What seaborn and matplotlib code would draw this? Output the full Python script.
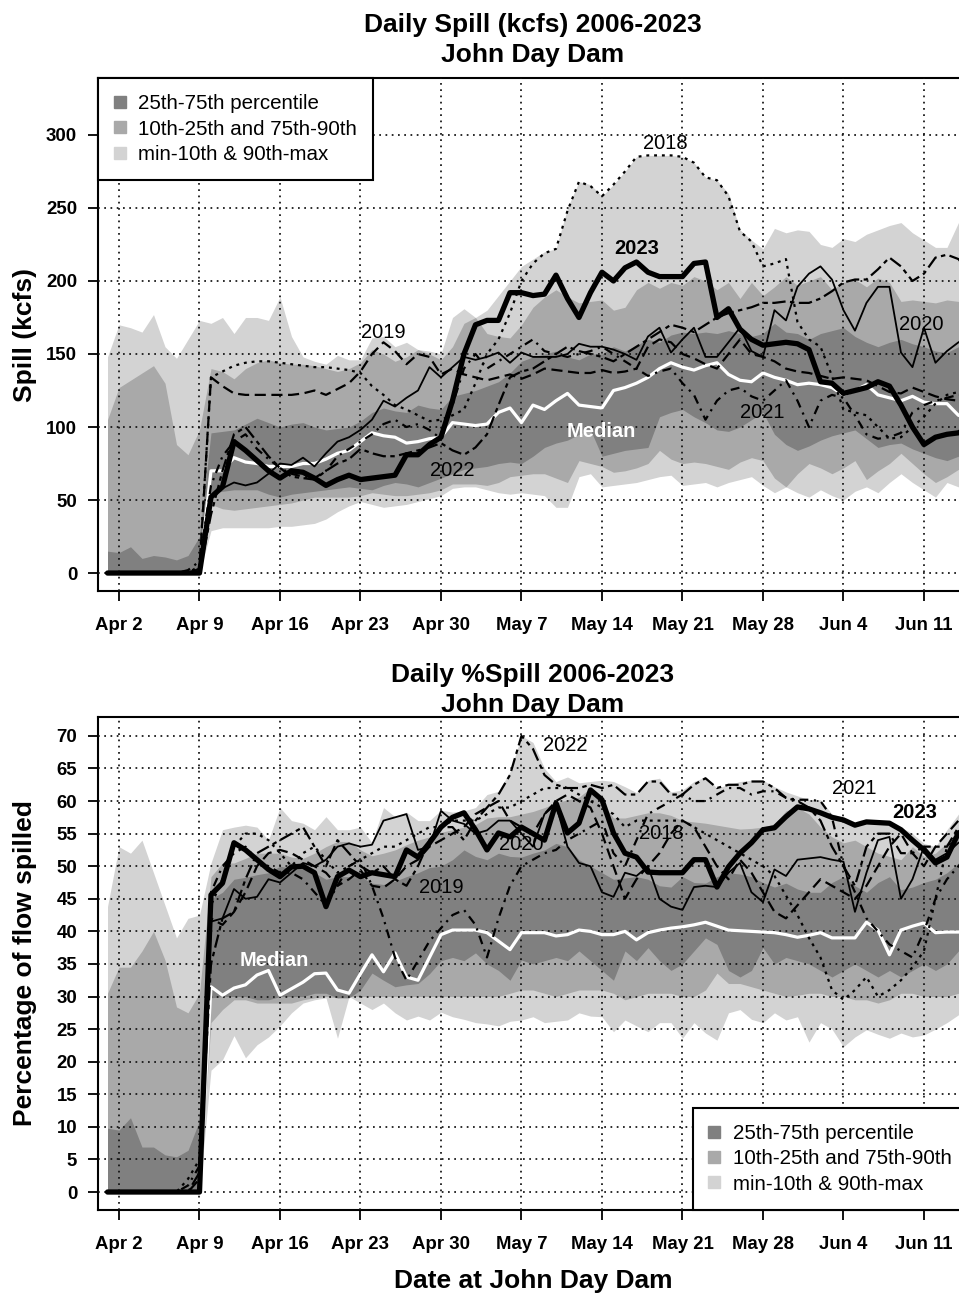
import numpy as np
import pandas as pd
import matplotlib
matplotlib.use("Agg")
import matplotlib.pyplot as plt
import seaborn as sns
from matplotlib.lines import Line2D

# ---------------- data ----------------
DATES = pd.date_range("2023-04-01", "2023-06-15", freq="D")
X = (DATES - DATES[0]).days.to_numpy()

XTICK_LABELS = ["Apr 2", "Apr 9", "Apr 16", "Apr 23", "Apr 30", "May 7",
                "May 14", "May 21", "May 28", "Jun 4", "Jun 11"]
TOP_YTICKS = [0, 50, 100, 150, 200, 250, 300]
BOT_YTICKS = [0, 5, 10, 15, 20, 25, 30, 35, 40, 45, 50, 55, 60, 65, 70]
YEARS = ["2018", "2019", "2020", "2021", "2022"]

# ---- Daily spill (kcfs) ----
TOP_MIN = [0, 0, 0, 0, 0, 0, 0, 0, 0, 29,
           31, 31, 31, 31, 31, 32, 32, 33, 34, 37,
           42, 46, 49, 47, 45, 46, 47, 49, 51, 53,
           58, 59, 59, 57, 55, 54, 55, 54, 53, 45,
           45, 66, 68, 59, 60, 61, 62, 64, 66, 67,
           60, 61, 62, 59, 62, 64, 66, 60, 55, 59,
           55, 52, 57, 53, 50, 56, 59, 55, 62, 68,
           62, 57, 52, 62, 59, 60]
TOP_P10 = [0, 0, 0, 0, 0, 0, 0, 0, 0, 47,
           44, 43, 44, 45, 46, 47, 48, 50, 52, 52,
           52, 52, 53, 55, 54, 53, 53, 54, 55, 57,
           61, 61, 61, 60, 62, 66, 67, 68, 68, 65,
           62, 77, 75, 73, 69, 70, 72, 75, 84, 78,
           75, 76, 75, 73, 71, 76, 79, 77, 65, 59,
           68, 75, 72, 68, 72, 77, 64, 70, 75, 82,
           75, 68, 62, 66, 71, 70]
TOP_P25 = [0, 0, 0, 0, 0, 0, 0, 0, 0, 55,
           56, 57, 57, 57, 54, 52, 54, 55, 56, 57,
           58, 59, 58, 57, 60, 62, 61, 59, 62, 65,
           68, 71, 72, 73, 75, 76, 75, 80, 86, 89,
           91, 95, 98, 80, 82, 84, 85, 86, 107, 110,
           112, 107, 103, 98, 97, 100, 105, 110, 95, 88,
           84, 87, 91, 94, 96, 98, 92, 86, 88, 89,
           85, 82, 79, 77, 80, 84]
TOP_MEDIAN = [0, 0, 0, 0, 0, 0, 0, 0, 0, 70,
              70, 79, 76, 75, 73, 73, 73, 75, 75, 78,
              82, 84, 90, 96, 94, 93, 89, 90, 92, 93,
              103, 102, 101, 102, 110, 113, 103, 115, 112, 118,
              123, 115, 114, 113, 125, 127, 130, 134, 140, 144,
              141, 139, 142, 144, 136, 132, 131, 137, 134, 132,
              129, 130, 129, 127, 122, 125, 129, 122, 120, 118,
              121, 117, 116, 116, 108, 106]
TOP_P75 = [15, 14, 18, 10, 12, 11, 9, 12, 25, 96,
           97, 98, 102, 106, 103, 100, 102, 103, 100, 98,
           99, 100, 104, 110, 113, 111, 110, 115, 113, 112,
           121, 123, 125, 128, 131, 137, 145, 148, 150, 152,
           148, 146, 150, 150, 155, 152, 156, 160, 158, 163,
           165, 164, 165, 164, 166, 164, 162, 164, 171, 165,
           164, 160, 164, 166, 168, 162, 158, 155, 158, 160,
           157, 155, 152, 151, 155, 156]
TOP_P90 = [105, 127, 132, 137, 142, 130, 88, 81, 98, 140,
           138, 133, 140, 144, 146, 144, 143, 143, 142, 140,
           138, 140, 144, 153, 150, 145, 148, 153, 150, 146,
           155, 171, 175, 164, 162, 161, 170, 182, 189, 194,
           189, 185, 186, 187, 180, 182, 194, 199, 195, 199,
           197, 203, 200, 194, 199, 188, 199, 190, 196, 203,
           197, 200, 203, 194, 199, 201, 196, 202, 199, 186,
           187, 186, 185, 187, 186, 185]
TOP_MAX = [148, 170, 168, 165, 177, 155, 147, 160, 173, 171,
           175, 164, 175, 175, 173, 189, 162, 148, 145, 143,
           149, 146, 146, 161, 162, 155, 158, 153, 152, 150,
           175, 181, 175, 180, 190, 200, 210, 215, 220, 222,
           250, 268, 266, 258, 266, 275, 285, 286, 286, 286,
           285, 281, 271, 269, 260, 235, 228, 222, 236, 233,
           235, 234, 225, 223, 229, 227, 232, 235, 238, 240,
           233, 228, 223, 223, 240, 242]
TOP_2023 = [0, 0, 0, 0, 0, 0, 0, 0, 0, 52,
            59, 90, 84, 77, 70, 65, 70, 69, 65, 60,
            64, 67, 64, 65, 66, 67, 81, 81, 88, 93,
            118, 150, 170, 173, 173, 192, 192, 190, 191, 204,
            188, 175, 192, 206, 200, 209, 213, 206, 203, 203,
            203, 212, 213, 175, 181, 167, 160, 156, 157, 158,
            157, 153, 131, 130, 123, 125, 127, 131, 128, 115,
            100, 88, 93, 95, 96, 100]
TOP_2018 = [0, 0, 0, 0, 0, 0, 0, 0, 5, 134,
            138, 142, 144, 145, 145, 144, 143, 142, 141, 141,
            140, 139, 137, 128, 122, 115, 112, 108, 104, 105,
            108, 112, 130, 150, 160, 178, 200, 212, 219, 222,
            248, 268, 265, 258, 266, 275, 285, 286, 286, 286,
            285, 281, 271, 269, 258, 234, 227, 210, 212, 215,
            172, 160, 155, 135, 112, 110, 108, 100, 92, 93,
            100, 107, 116, 122, 124, 125]
TOP_2019 = [0, 0, 0, 0, 0, 0, 0, 0, 3, 134,
            128, 123, 122, 122, 122, 122, 122, 123, 125, 122,
            126, 130, 138, 150, 158, 152, 143, 150, 148, 136,
            140, 136, 134, 132, 134, 136, 133, 136, 140, 139,
            138, 137, 137, 139, 137, 138, 140, 155, 160, 158,
            150, 147, 143, 140, 150, 160, 150, 148, 145, 140,
            138, 137, 135, 133, 134, 133, 132, 128, 124, 123,
            127, 124, 121, 119, 118, 118]
TOP_2020 = [0, 0, 0, 0, 0, 0, 0, 0, 0, 52,
            58, 62, 60, 62, 68, 75, 74, 79, 73, 82,
            90, 93, 98, 105, 118, 114, 120, 125, 141, 134,
            141, 148, 146, 148, 151, 144, 151, 148, 148, 148,
            150, 157, 155, 155, 153, 150, 146, 162, 168, 151,
            160, 168, 148, 148, 158, 168, 152, 148, 180, 173,
            196, 205, 210, 201, 180, 166, 185, 196, 196, 151,
            141, 168, 144, 152, 158, 162]
TOP_2021 = [0, 0, 0, 0, 0, 0, 0, 2, 8, 60,
            80, 90, 95, 85, 78, 72, 68, 66, 65, 70,
            80, 85, 90, 95, 102, 105, 100, 102, 98, 92,
            115, 140, 150, 140, 145, 150, 155, 160, 152, 150,
            148, 150, 152, 155, 150, 145, 140, 135, 138, 140,
            130, 122, 105, 118, 125, 127, 121, 118, 125, 132,
            118, 100, 118, 122, 120, 108, 95, 92, 93, 96,
            110, 115, 118, 120, 122, 122]
TOP_2022 = [0, 0, 0, 0, 0, 0, 0, 0, 0, 40,
            70, 95, 100, 90, 80, 72, 66, 65, 64, 70,
            75, 78, 85, 82, 80, 80, 82, 84, 86, 89,
            84, 81, 86, 95, 115, 134, 138, 140, 145, 150,
            155, 152, 150, 148, 145, 150, 155, 160, 165, 170,
            168, 165, 170, 175, 178, 180, 182, 185, 185, 186,
            185, 185, 188, 193, 199, 201, 201, 208, 216, 210,
            200, 205, 216, 218, 215, 205]

# ---- Daily % spill ----
BOT_MIN = [0, 0, 0, 0, 0, 0, 0, 0, 0, 18.7,
           20.3, 24.0, 20.6, 22.6, 23.8, 25.5, 27.5, 29.0, 29.5, 29.8,
           23.6, 30.0, 29.0, 28.0, 29.0, 27.5, 26.4, 27.0, 26.4, 27.6,
           26.9, 26.5, 26.0, 25.8, 25.5, 26.2, 26.4, 26.9, 26.0, 26.2,
           26.4, 27.5, 27.0, 26.9, 24.6, 26.4, 25.5, 24.6, 26.0, 26.0,
           23.6, 26.0, 24.4, 23.3, 27.5, 28.0, 26.5, 26.0, 27.5, 26.4,
           26.9, 23.0, 26.0, 25.0, 22.3, 23.8, 24.9, 24.2, 23.6, 24.4,
           23.8, 24.1, 25.0, 26.0, 27.2, 27.5]
BOT_P10 = [0, 0, 0, 0, 0, 0, 0, 0, 0, 26.0,
           28.0, 29.5, 29.5, 29.0, 29.0, 29.0, 29.0, 29.5, 29.8, 30.0,
           29.8, 30.0, 30.0, 30.0, 30.0, 30.0, 30.0, 30.0, 30.0, 30.0,
           30.0, 30.0, 30.0, 30.0, 30.0, 30.5, 31.0, 31.0, 30.5, 30.0,
           30.5, 31.0, 31.0, 31.0, 30.5, 29.5, 30.0, 30.5, 30.5, 30.5,
           30.0, 30.0, 31.0, 33.6, 32.0, 32.0, 31.5, 31.0, 30.5, 30.0,
           30.2, 30.5, 30.5, 30.0, 30.0, 29.5, 29.5, 29.0, 29.5, 30.5,
           30.5, 30.0, 30.0, 30.0, 30.5, 30.5]
BOT_P25 = [0, 0, 0, 0, 0, 0, 0, 0, 0, 29.8,
           30.0, 30.0, 30.0, 29.5, 29.5, 30.0, 30.0, 30.0, 30.5, 30.5,
           29.8, 29.8, 31.0, 33.6, 32.5, 31.5, 31.8, 32.0, 33.5, 35.5,
           36.0, 35.5, 36.7, 35.0, 34.0, 32.5, 35.6, 35.0, 35.5, 36.0,
           35.5, 37.0, 35.5, 34.0, 32.5, 37.0, 35.5, 37.5, 35.5, 34.0,
           35.0, 37.0, 39.0, 38.0, 34.0, 33.0, 34.0, 37.5, 35.0, 36.0,
           35.5, 35.0, 34.0, 33.0, 34.0, 35.0, 34.0, 33.0, 34.0, 33.0,
           34.0, 35.0, 34.0, 35.0, 37.0, 37.0]
BOT_MEDIAN = [0, 0, 0, 0, 0, 0, 0, 0, 0, 31.5,
              30.2, 31.3, 31.8, 33.3, 34.0, 30.2, 31.2, 32.2, 33.5, 33.6,
              31.0, 30.5, 33.5, 36.4, 33.8, 36.7, 33.0, 32.5, 36.0, 39.5,
              40.2, 40.2, 40.2, 39.8, 38.5, 37.2, 39.8, 39.8, 39.8, 39.3,
              39.5, 40.2, 40.0, 39.5, 39.5, 40.0, 38.7, 39.8, 40.2, 40.5,
              40.7, 41.0, 41.4, 40.8, 40.2, 40.1, 40.0, 39.9, 39.8, 39.5,
              39.1, 39.4, 39.8, 39.0, 39.0, 39.0, 41.4, 40.2, 36.4, 40.2,
              40.8, 41.3, 39.8, 39.9, 39.9, 40.0]
BOT_P75 = [9.8, 9.5, 11.4, 6.9, 6.9, 5.7, 5.4, 6.4, 11.0, 45.0,
           46.0, 48.0, 48.3, 48.7, 49.0, 50.0, 49.7, 50.3, 49.0, 48.0,
           48.4, 48.4, 48.4, 47.4, 47.2, 47.7, 48.4, 49.0, 49.8, 50.0,
           51.0, 52.5, 51.5, 51.0, 52.0, 51.5, 51.4, 52.0, 52.5, 53.5,
           53.0, 51.0, 50.0, 49.0, 48.0, 48.2, 48.4, 48.0, 47.0, 46.8,
           48.4, 47.5, 47.4, 48.4, 49.0, 48.8, 48.4, 47.5, 46.8, 47.4,
           46.5, 46.0, 46.0, 47.5, 48.4, 47.0, 46.0, 47.5, 48.4, 46.4,
           46.8, 47.5, 48.0, 49.0, 50.5, 51.0]
BOT_P90 = [30.5, 34.5, 34.5, 37.0, 40.0, 35.6, 28.4, 27.5, 30.5, 48.4,
           50.5, 50.5, 51.2, 52.0, 52.0, 52.0, 51.4, 51.2, 52.0, 53.0,
           53.8, 53.8, 52.5, 51.6, 52.0, 52.5, 53.3, 54.0, 54.5, 55.2,
           55.6, 56.0, 56.4, 57.4, 57.6, 57.6, 58.0, 58.4, 59.0, 59.7,
           60.2, 60.6, 62.0, 59.7, 57.4, 57.4, 57.8, 58.2, 58.2, 57.8,
           57.0, 56.8, 56.6, 56.3, 56.0, 55.7, 55.8, 56.0, 56.5, 58.5,
           59.0, 58.0, 56.0, 54.5, 53.6, 54.0, 53.0, 52.0, 51.5, 51.0,
           53.0, 51.5, 52.0, 53.6, 55.6, 56.0]
BOT_MAX = [43.8, 53.0, 52.0, 54.0, 49.0, 44.0, 39.0, 42.0, 42.5, 50.5,
           55.6, 56.0, 56.3, 56.0, 54.0, 59.0, 57.0, 56.6, 55.6, 57.6,
           55.6, 55.6, 56.0, 53.6, 59.0, 57.6, 58.3, 57.0, 57.0, 58.6,
           58.3, 58.5, 59.0, 61.0, 61.5, 64.5, 70.0, 69.0, 65.0, 63.0,
           63.7, 62.8, 63.0, 63.2, 63.0, 62.2, 61.3, 63.2, 63.5, 61.4,
           61.7, 63.0, 63.7, 62.0, 62.5, 63.0, 63.2, 63.2, 62.2, 61.4,
           60.8, 60.2, 60.2, 58.0, 57.5, 56.5, 57.0, 57.0, 56.8, 56.0,
           55.0, 53.5, 53.0, 55.6, 58.0, 58.5]
BOT_2023 = [0, 0, 0, 0, 0, 0, 0, 0, 0, 45.6,
            47.4, 53.6, 52.5, 51.0, 49.5, 48.4, 49.9, 50.0, 49.0, 43.8,
            48.4, 49.4, 48.4, 49.0, 48.7, 48.4, 52.5, 51.4, 53.6, 56.0,
            57.5, 58.2, 55.6, 52.5, 55.1, 54.5, 56.0, 55.0, 54.0, 59.7,
            55.1, 56.6, 61.7, 60.2, 55.1, 52.0, 51.4, 49.1, 49.0, 49.0,
            49.0, 51.0, 51.0, 46.8, 49.9, 52.0, 53.6, 55.6, 55.9, 57.6,
            59.1, 58.8, 58.2, 57.5, 57.1, 56.3, 56.8, 56.7, 56.6, 55.6,
            54.0, 52.5, 50.5, 51.4, 55.1, 56.0]
BOT_2018 = [0, 0, 0, 0, 0, 0, 0, 2, 5, 44,
            48, 53, 55, 55, 54, 52, 50, 52, 53, 51,
            49, 50, 51, 52, 53, 53, 54, 55, 56, 56,
            57, 57, 57, 58, 59, 59, 60, 61, 62, 62,
            62, 61, 60, 59, 58, 56, 57, 57, 57, 57,
            57, 56, 55, 54, 53, 52, 51, 50, 48.5, 45.5,
            42.5, 39, 36, 31, 29.5, 31, 33, 30, 31, 32.5,
            34.5, 37, 45, 53, 55, 56]
BOT_2019 = [0, 0, 0, 0, 0, 0, 0, 0, 2, 42,
            41, 43, 46, 50, 52, 52.5, 52, 51, 50, 49,
            47, 48, 49.4, 47, 46.7, 48, 50, 51, 53, 54,
            55, 56, 58, 59, 60, 57, 56, 55, 58, 60,
            61, 60, 59, 55, 50, 45, 48, 50, 52, 55,
            57, 56, 53, 50, 48, 51, 49, 46, 43, 42,
            44, 46, 48, 47, 46, 45, 47, 50, 53, 55,
            52, 50, 53, 55, 57, 58]
BOT_2020 = [0, 0, 0, 0, 0, 0, 0, 0, 0, 41.5,
            42, 46.5, 45, 45.3, 48, 47.5, 49, 50.5, 50, 51,
            53, 53.5, 53, 53.3, 57, 57.5, 58, 52.5, 53, 58.5,
            57, 56.5, 55, 55.5, 57, 57, 55, 53, 58, 59.5,
            53, 50.5, 50, 46, 45.3, 49, 48.5, 50, 45, 43.8,
            43.3, 46.8, 47, 46.8, 49, 50.5, 46, 44.5, 49.5, 48.5,
            51, 51.2, 51.4, 51, 50.7, 43, 49, 54, 54.5, 45,
            48, 53, 51, 52, 53.6, 54]
BOT_2021 = [0, 0, 0, 0, 0, 0, 0, 1, 4, 46,
            50, 52, 53, 51, 50, 49, 49, 48, 46, 44,
            47, 50, 51, 47, 42, 36, 32.5, 35.5, 38.5, 40.5,
            42.5, 43.3, 41, 36, 42, 47, 50, 51, 52, 52.5,
            54, 55, 56, 57, 52, 50, 54, 58, 59, 60,
            61, 60, 60, 61, 62, 62, 61, 61.5, 61.5, 60.5,
            60.2, 60.2, 60, 57.5, 50, 46, 42, 40, 38, 37,
            36, 40, 45, 48, 50, 52]
BOT_2022 = [0, 0, 0, 0, 0, 0, 0, 0, 3, 35,
            42, 43, 48, 52, 53, 54, 55, 56, 53, 50,
            54, 52, 50, 49, 50, 48, 47, 50, 54, 56,
            56, 54, 57, 59, 61, 64, 70, 68, 64, 62.5,
            62, 62, 62.5, 62, 62.5, 61, 61, 63, 63, 61,
            61, 62.5, 63.5, 62, 62.5, 62.5, 63, 63, 62, 60.5,
            60, 59, 57, 53, 50, 47, 53, 55, 55, 52,
            52, 53, 53, 53, 56, 57]

LEGEND_LABELS = ["25th-75th percentile", "10th-25th and 75th-90th",
                 "min-10th & 90th-max"]

# ---------------- styles ----------------
LIGHT, MED, DARK = "#D3D3D3", "#A9A9A9", "#808080"
YEAR_STYLE = {
    "2018": dict(linestyle=(0, (1.3, 2.2)), linewidth=1.6),
    "2019": dict(linestyle=(0, (5, 2.5)), linewidth=1.6),
    "2020": dict(linestyle="-", linewidth=1.3),
    "2021": dict(linestyle=(0, (1, 2.5, 4, 2.5)), linewidth=1.6),
    "2022": dict(linestyle=(0, (2, 2, 6, 2)), linewidth=1.6),
}

sns.set_style("white")
plt.rcParams["font.family"] = ["Liberation Sans", "DejaVu Sans"]
plt.rcParams["text.color"] = "black"
plt.rcParams["axes.labelcolor"] = "black"
plt.rcParams["xtick.color"] = "black"
plt.rcParams["ytick.color"] = "black"

W, H = 959, 1295
fig = plt.figure(figsize=(W / 100, H / 100), dpi=100)


def px_axes(l, t, r, b):
    return [l / W, 1 - b / H, (r - l) / W, (b - t) / H]


ax1 = fig.add_axes(px_axes(98, 78, 968, 591))
ax2 = fig.add_axes(px_axes(98, 717, 968, 1210))

tick_pos = [(pd.to_datetime(lbl + " 2023", format="%b %d %Y") - DATES[0]).days
            for lbl in XTICK_LABELS]


def panel(ax, bands, median, years, y2023, ylim, yticks, title, title_pad,
          ylabel, labels, legend_loc):
    vmin, p10, p25, p75, p90, vmax = bands
    ax.fill_between(X, vmin, vmax, color=LIGHT, linewidth=0, zorder=1)
    ax.fill_between(X, p10, p90, color=MED, linewidth=0, zorder=1.1)
    ax.fill_between(X, p25, p75, color=DARK, linewidth=0, zorder=1.2)

    ax.set_axisbelow(False)
    ax.grid(True, color="#111111", linestyle=(0, (1, 2.6)), linewidth=1.25)

    sns.lineplot(x=X, y=median, ax=ax, color="white", linewidth=2.3,
                 zorder=3.5, legend=False)
    for yr, vals in zip(YEARS, years):
        sns.lineplot(x=X, y=vals, ax=ax, color="black", zorder=4,
                     legend=False, **YEAR_STYLE[yr])
    sns.lineplot(x=X, y=y2023, ax=ax, color="black", linewidth=3.8,
                 zorder=5, legend=False)

    for txt, (xx, yy, bold, col) in labels.items():
        ax.text(xx, yy, txt, ha="center", va="center",
                fontsize=14.5, fontweight="bold" if bold else "normal",
                color=col, zorder=3)

    ax.set_xlim(-0.826, 74.83)
    ax.set_ylim(*ylim)
    ax.set_xticks(tick_pos)
    ax.set_xticklabels(XTICK_LABELS, fontweight="bold", fontsize=13.4)
    ax.set_yticks(yticks)
    ax.set_yticklabels([str(v) for v in yticks], fontweight="bold",
                       fontsize=13.4)
    ax.tick_params(axis="both", direction="out", length=7, width=1.3,
                   color="black", left=True, bottom=True)
    ax.tick_params(axis="x", pad=11.5)
    ax.tick_params(axis="y", pad=8)
    for s in ax.spines.values():
        s.set_linewidth(1.5)
        s.set_color("black")

    ax.set_title(title, fontsize=19, fontweight="bold", pad=title_pad,
                 linespacing=1.33)
    ax.set_xlabel("")
    ax.set_ylabel(ylabel, fontsize=19, fontweight="bold")
    ax.yaxis.set_label_coords((25 - 98) / 870, 0.5)
    ax.yaxis.label.set_va("center")

    handles = [Line2D([0], [0], marker="s", linestyle="none", markersize=8,
                      markerfacecolor=c, markeredgecolor=c)
               for c in (DARK, MED, LIGHT)]
    anchor = (0, 1) if legend_loc == "upper left" else (1, 0)
    leg = ax.legend(handles, LEGEND_LABELS, loc=legend_loc,
                    bbox_to_anchor=anchor, borderaxespad=0, fontsize=14.8,
                    frameon=True, fancybox=False, edgecolor="black",
                    framealpha=1, handlelength=0.5, handletextpad=0.65,
                    labelspacing=0.3, borderpad=0.8)
    leg.get_frame().set_linewidth(1.5)
    leg.set_zorder(10)


TOP_LABELS = {
    "2018": (48.5, 294, False, "black"),
    "2023": (46.0, 222, True, "black"),
    "2019": (24.0, 165, False, "black"),
    "2020": (70.8, 170, False, "black"),
    "2021": (56.9, 110, False, "black"),
    "2022": (30.0, 70.5, False, "black"),
    "Median": (42.9, 97, True, "white"),
}
BOT_LABELS = {
    "2022": (39.8, 68.5, False, "black"),
    "2021": (64.9, 61.9, False, "black"),
    "2023": (70.2, 58.3, True, "black"),
    "2018": (48.2, 55.0, False, "black"),
    "2020": (36.0, 53.3, False, "black"),
    "2019": (29.0, 46.8, False, "black"),
    "Median": (14.5, 35.5, True, "white"),
}

panel(ax1, (TOP_MIN, TOP_P10, TOP_P25, TOP_P75, TOP_P90, TOP_MAX), TOP_MEDIAN,
      [TOP_2018, TOP_2019, TOP_2020, TOP_2021, TOP_2022], TOP_2023,
      (-12.3, 339), TOP_YTICKS, "Daily Spill (kcfs) 2006-2023\nJohn Day Dam",
      11.5, "Spill (kcfs)", TOP_LABELS, "upper left")
panel(ax2, (BOT_MIN, BOT_P10, BOT_P25, BOT_P75, BOT_P90, BOT_MAX), BOT_MEDIAN,
      [BOT_2018, BOT_2019, BOT_2020, BOT_2021, BOT_2022], BOT_2023,
      (-2.76, 72.9), BOT_YTICKS, "Daily %Spill 2006-2023\nJohn Day Dam",
      3.5, "Percentage of flow spilled", BOT_LABELS, "lower right")

ax2.set_xlabel("Date at John Day Dam", fontsize=19, fontweight="bold")
ax2.xaxis.set_label_coords(0.5, -(1281 - 1210) / 493)
ax2.xaxis.label.set_va("center")

fig.savefig("out.png", dpi=100)
